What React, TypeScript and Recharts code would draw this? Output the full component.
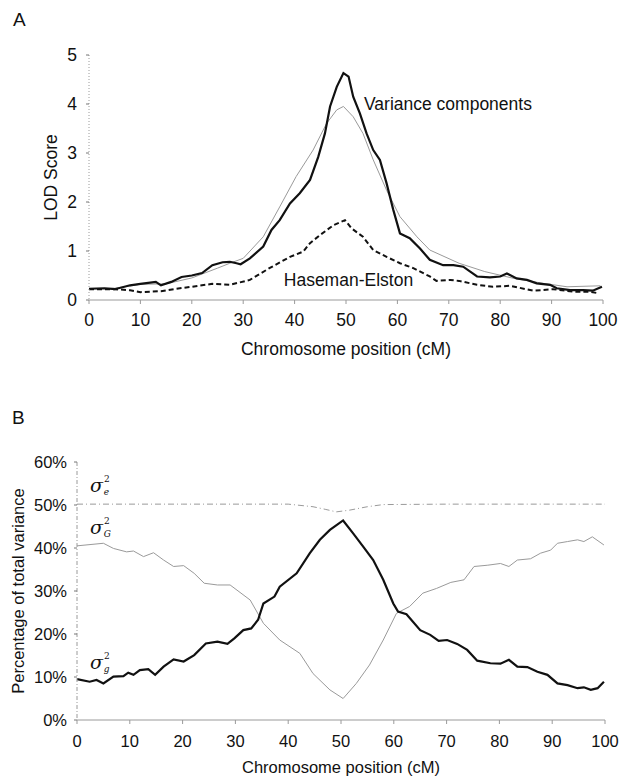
import React from 'react';
import { LineChart, Line, XAxis, YAxis, ReferenceDot } from 'recharts';

// shared x ticks (cM)
const positionTicks = [0, 10, 20, 30, 40, 50, 60, 70, 80, 90, 100];
const lodTicks = [0, 1, 2, 3, 4, 5];
const pctTicks = [0, 10, 20, 30, 40, 50, 60];

// Panel A - variance components LOD (solid black)
const vcPos = [0, 3, 5, 8, 10, 13, 14, 16, 18, 20, 22, 24, 26, 27.4, 28.7, 29.5, 31.3, 33.9, 35.5, 37.1, 39.1, 41, 43, 44.6, 45.9, 46.9, 48.2, 49.5, 50.5, 51.4, 52.7, 54, 55.3, 56.6, 57.9, 59.2, 60.5, 62.4, 64.4, 66.3, 68.9, 70.9, 72.8, 75.5, 78, 80, 81.3, 83.2, 85.2, 87.1, 89.7, 91, 93.6, 96.1, 98, 99.8];
const vcLod = [0.23, 0.24, 0.22, 0.3, 0.33, 0.37, 0.3, 0.37, 0.47, 0.5, 0.55, 0.71, 0.77, 0.78, 0.75, 0.73, 0.85, 1.09, 1.43, 1.63, 1.97, 2.18, 2.45, 2.92, 3.4, 3.95, 4.35, 4.63, 4.56, 4.15, 3.81, 3.4, 3.06, 2.86, 2.38, 1.84, 1.36, 1.26, 1.05, 0.82, 0.71, 0.71, 0.68, 0.48, 0.46, 0.48, 0.54, 0.44, 0.41, 0.34, 0.31, 0.24, 0.2, 0.2, 0.19, 0.27];

// Panel A - thin grey curve
const greyPos = [0, 5, 10, 15, 20, 25, 27.4, 30, 33.9, 37.1, 40.3, 43.6, 46.2, 48.2, 49.5, 51.4, 53.3, 55.3, 57.9, 60.5, 63.8, 66.3, 72, 77, 82.7, 88.4, 93, 99.5];
const greyLod = [0.23, 0.24, 0.32, 0.33, 0.45, 0.65, 0.75, 0.85, 1.29, 1.9, 2.52, 3.06, 3.6, 3.88, 3.95, 3.74, 3.4, 2.86, 2.24, 1.7, 1.29, 1.02, 0.75, 0.58, 0.44, 0.34, 0.27, 0.29];

// Panel A - Haseman-Elston (dashed)
const hePos = [0, 5, 8, 10, 14, 17, 20, 24, 27.4, 31.3, 35.1, 39.1, 41.7, 43, 45, 47.6, 49.8, 51.1, 53.3, 55.3, 57.9, 60.5, 63.1, 66.3, 67.6, 70.3, 72, 75.5, 78.6, 81.9, 86.4, 90.3, 94.3, 97.3, 99];
const heLod = [0.22, 0.22, 0.2, 0.16, 0.18, 0.23, 0.27, 0.33, 0.31, 0.41, 0.65, 0.88, 0.99, 1.16, 1.33, 1.53, 1.63, 1.46, 1.29, 1.02, 0.88, 0.75, 0.65, 0.48, 0.39, 0.41, 0.39, 0.31, 0.27, 0.29, 0.19, 0.22, 0.17, 0.17, 0.14];

// Panel B - sigma_g^2 (solid black)
const gPos = [0, 2.4, 3.7, 5, 6.9, 8.8, 9.7, 10.7, 11.9, 13.5, 14.8, 16.4, 18.3, 20.2, 22.2, 24.4, 26.6, 28.5, 29.8, 31.5, 33, 34.3, 35.3, 37.4, 38.4, 41.6, 44.1, 46, 47.9, 50.4, 52.3, 54.2, 56.1, 58, 59.9, 60.8, 62.4, 65, 66.9, 68.5, 70.1, 72, 73.9, 75.8, 78.3, 80.2, 81.8, 83.4, 85.3, 87.2, 89.1, 91, 92.9, 94.8, 96, 97.3, 98.6, 99.8];
const gPct = [9.5, 8.9, 9.3, 8.5, 10.1, 10.2, 11, 10.5, 11.6, 11.8, 10.5, 12.4, 14.1, 13.6, 15.1, 17.8, 18.2, 17.7, 19, 20.9, 21.3, 23.3, 27.1, 28.7, 31, 34.1, 38.8, 41.9, 44.2, 46.4, 43.4, 40.3, 37.2, 32.6, 27.1, 25.2, 24.6, 20.9, 19.8, 18.4, 18.6, 17.7, 16.3, 13.8, 13.2, 13.1, 14, 12.4, 12.3, 11.2, 10.5, 8.5, 8.1, 7.4, 7.6, 7, 7.4, 8.9];

// Panel B - sigma_G^2 (grey)
const bigGPos = [0, 5, 6.9, 9.4, 10.7, 12.6, 14.5, 16.4, 18.3, 20.2, 22.2, 24.1, 26.6, 29, 32.8, 35.3, 38.4, 42.2, 44.7, 47.9, 50.4, 52.9, 55.4, 58, 60.5, 63, 65.5, 68.1, 70.8, 73.3, 75.2, 77.8, 80.2, 81.8, 83.4, 85.9, 87.8, 89.7, 91, 92.9, 94.8, 96, 97.6, 99.8];
const bigGPct = [40.5, 41.1, 39.9, 39.1, 39.3, 38, 38.9, 37.2, 35.7, 35.9, 34.1, 31.8, 31.4, 31.4, 27.9, 22.5, 18.6, 15.5, 10.8, 7, 5, 8.5, 12.8, 18.6, 24.8, 26.4, 29.5, 30.6, 32, 32.6, 35.7, 36, 36.4, 35.7, 37.2, 37.5, 38.8, 39.5, 41.1, 41.5, 41.9, 41.5, 42.6, 40.7];

// Panel B - sigma_e^2 boundary (grey, near 50%)
const ePos = [0, 20, 40, 44.7, 47, 49.1, 51.6, 55, 58, 70, 85, 100];
const ePct = [50.2, 50.2, 50.2, 49.6, 49, 48.4, 48.8, 49.6, 50.1, 50.2, 50.2, 50.2];

const zip = (xs: number[], ys: number[]) => xs.map((x, i) => ({ x, y: ys[i] }));

const INK = '#111';
const GREY = '#9a9a9a';

// sigma with stacked superscript 2 and subscript, drawn as one text element
const SigmaLabel = (props: any) => {
  const { viewBox, sub } = props;
  const x = viewBox.x;
  const y = viewBox.y;
  return (
    <text x={x} y={y + 5} fill={INK} fontFamily='"DejaVu Serif", "Liberation Serif", serif'>
      <tspan fontSize={19} fontStyle="italic">σ</tspan>
      <tspan fontSize={9} dx={1} dy={-10}>2</tspan>
      <tspan fontSize={9} fontStyle="italic" dx={-6} dy={13}>{sub}</tspan>
    </text>
  );
};

export default function App() {
  return (
    <div style={{ position: 'absolute', left: 0, top: 0, width: 627, height: 776, background: '#fff', fontFamily: '"Liberation Sans", Arial, sans-serif', color: INK }}>
      <div style={{ position: 'absolute', left: 13, top: 9, fontSize: 19 }}>A</div>
      <div style={{ position: 'absolute', left: 12, top: 407, fontSize: 19 }}>B</div>

      {/* panel A */}
      <div style={{ position: 'absolute', left: 0, top: 0 }}>
        <LineChart width={627} height={370} margin={{ top: 55, right: 24, left: 0, bottom: 10 }}>
          <XAxis type="number" dataKey="x" domain={[0, 100]} ticks={positionTicks} height={60}
            stroke={GREY} tickSize={4} tickMargin={10} tick={{ fill: INK, fontSize: 17.5 }}
            label={{ value: 'Chromosome position (cM)', position: 'insideBottom', offset: 5, fill: INK, fontSize: 17.5 }} />
          <YAxis type="number" domain={[0, 5]} ticks={lodTicks} width={89}
            axisLine={{ stroke: GREY, strokeDasharray: '1 2' }} tickLine={{ stroke: '#777' }}
            tickSize={3} tickMargin={9} tick={{ fill: INK, fontSize: 17.5 }}
            label={{ value: 'LOD Score', angle: -90, position: 'insideLeft', offset: 51, fill: INK, fontSize: 17.5, style: { textAnchor: 'middle' } }} />
          <Line data={zip(greyPos, greyLod)} dataKey="y" type="linear" stroke={GREY} strokeWidth={1} dot={false} isAnimationActive={false} />
          <Line data={zip(hePos, heLod)} dataKey="y" type="linear" stroke={INK} strokeWidth={2} strokeDasharray="5 3" dot={false} isAnimationActive={false} />
          <Line data={zip(vcPos, vcLod)} dataKey="y" type="linear" stroke={INK} strokeWidth={2.2} dot={false} isAnimationActive={false} />
          <ReferenceDot x={53.3} y={4.0} r={1} fill="none" stroke="none" ifOverflow="visible"
            label={{ value: 'Variance components', position: 'right', offset: 0, fill: INK, fontSize: 17.5 }} />
          <ReferenceDot x={37.7} y={0.42} r={1} fill="none" stroke="none" ifOverflow="visible"
            label={{ value: 'Haseman-Elston', position: 'right', offset: 0, fill: INK, fontSize: 17.5 }} />
        </LineChart>
      </div>

      {/* panel B */}
      <div style={{ position: 'absolute', left: 0, top: 390 }}>
        <LineChart width={627} height={386} margin={{ top: 72, right: 22, left: 0, bottom: 0 }}>
          <XAxis type="number" dataKey="x" domain={[0, 100]} ticks={positionTicks} height={56}
            stroke={GREY} tickSize={4} tickMargin={11} tick={{ fill: INK, fontSize: 16.5 }}
            label={{ value: 'Chromosome position (cM)', position: 'insideBottom', offset: 3, fill: INK, fontSize: 16.5 }} />
          <YAxis type="number" domain={[0, 60]} ticks={pctTicks} width={77} tickFormatter={(v: number) => `${v}%`}
            axisLine={{ stroke: GREY, strokeDasharray: '4 2 1 2' }} tickLine={{ stroke: '#777' }}
            tickSize={3} tickMargin={7} tick={{ fill: INK, fontSize: 16.5 }}
            label={{ value: 'Percentage of total variance', angle: -90, position: 'insideLeft', offset: 18.5, fill: INK, fontSize: 16.5, style: { textAnchor: 'middle' } }} />
          <Line data={zip(ePos, ePct)} dataKey="y" type="linear" stroke={GREY} strokeWidth={1} strokeDasharray="6 3 1 3" dot={false} isAnimationActive={false} />
          <Line data={zip(bigGPos, bigGPct)} dataKey="y" type="linear" stroke={GREY} strokeWidth={1} dot={false} isAnimationActive={false} />
          <Line data={zip(gPos, gPct)} dataKey="y" type="linear" stroke={INK} strokeWidth={2.2} dot={false} isAnimationActive={false} />
          <ReferenceDot x={2.65} y={54} r={1} fill="none" stroke="none" ifOverflow="visible" label={<SigmaLabel sub="e" />} />
          <ReferenceDot x={2.65} y={44.2} r={1} fill="none" stroke="none" ifOverflow="visible" label={<SigmaLabel sub="G" />} />
          <ReferenceDot x={2.65} y={12.8} r={1} fill="none" stroke="none" ifOverflow="visible" label={<SigmaLabel sub="g" />} />
        </LineChart>
      </div>
    </div>
  );
}
